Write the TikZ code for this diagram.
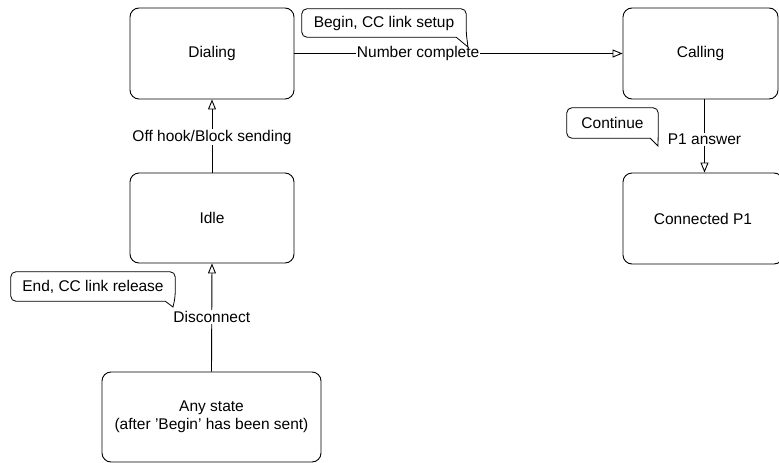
\documentclass[tikz,border=0pt]{standalone}
\usepackage{fontspec}
\setmainfont{Liberation Sans}
\usetikzlibrary{arrows.meta,calc}
\tikzset{
  state/.style={draw, rounded corners=9pt, line width=0.9pt, align=center, inner sep=0pt},
  lbl/.style={fill=white, inner sep=1pt},
  notetext/.style={inner sep=0pt},
  noteline/.style={line width=0.8pt},
  arr/.style={-{Triangle[open,length=10pt,width=8pt]}, line width=0.9pt},
}
\begin{document}
\begin{tikzpicture}[x=1pt,y=-1pt,font=\fontsize{15.5pt}{18pt}\selectfont]
\useasboundingbox (0,0) rectangle (779,463);
% states
\node[state, minimum width=164pt, minimum height=91pt] (dial) at (212,53.5) {Dialing};
\node[state, minimum width=164pt, minimum height=90pt] (idle) at (212,218) {Idle};
\node[state, minimum width=155pt, minimum height=91pt] (call) at (700.5,53.5) {Calling};
\node[state, minimum width=160pt, minimum height=91pt] (conn) at (703,218.5) {Connected P1};
\node[state, minimum width=219pt, minimum height=90pt] (any) at (211.5,417) {Any state\\(after ’Begin’ has been sent)};
% transitions
\draw[arr] (dial.east) -- node[lbl, pos=0.377] (lnum) {Number complete} (call.west);
\draw[arr] (idle.north) -- node[lbl, pos=0.486] (loff) {Off hook/Block sending} (dial.south);
\draw[arr] (any.north) -- node[lbl, pos=0.505] (ldis) {Disconnect} (idle.south);
\draw[arr] ($(call.south)+(4,0)$) -- node[lbl, pos=0.55] (lp1) {P1 answer} ($(conn.north)+(1.5,0)$);
% callouts
\node[notetext, minimum width=164pt, minimum height=28pt] (n1) at (384,23) {Begin, CC link setup};
\coordinate (t1) at (468,47);
\draw[noteline] ($(n1.south east)+(-10,0)$) [rounded corners=5pt] -- (n1.south west) -- (n1.north west) -- (n1.north east) -- ($(n1.south east)+(0,-4)$) [sharp corners] -- (t1) -- cycle;
\node[notetext, minimum width=164pt, minimum height=29pt] (n2) at (93,286.5) {End, CC link release};
\coordinate (t2) at (173,307);
\draw[noteline] ($(n2.south east)+(-10,0)$) [rounded corners=5pt] -- (n2.south west) -- (n2.north west) -- (n2.north east) -- ($(n2.south east)+(0,-4)$) [sharp corners] -- (t2) -- cycle;
\node[notetext, minimum width=91pt, minimum height=30pt] (n3) at (612.5,123) {Continue};
\coordinate (t3) at (658,146);
\draw[noteline] ($(n3.south east)+(-8,0)$) [rounded corners=5pt] -- (n3.south west) -- (n3.north west) -- (n3.north east) -- ($(n3.south east)+(0,-4)$) [sharp corners] -- (t3) -- cycle;
\end{tikzpicture}
\end{document}
